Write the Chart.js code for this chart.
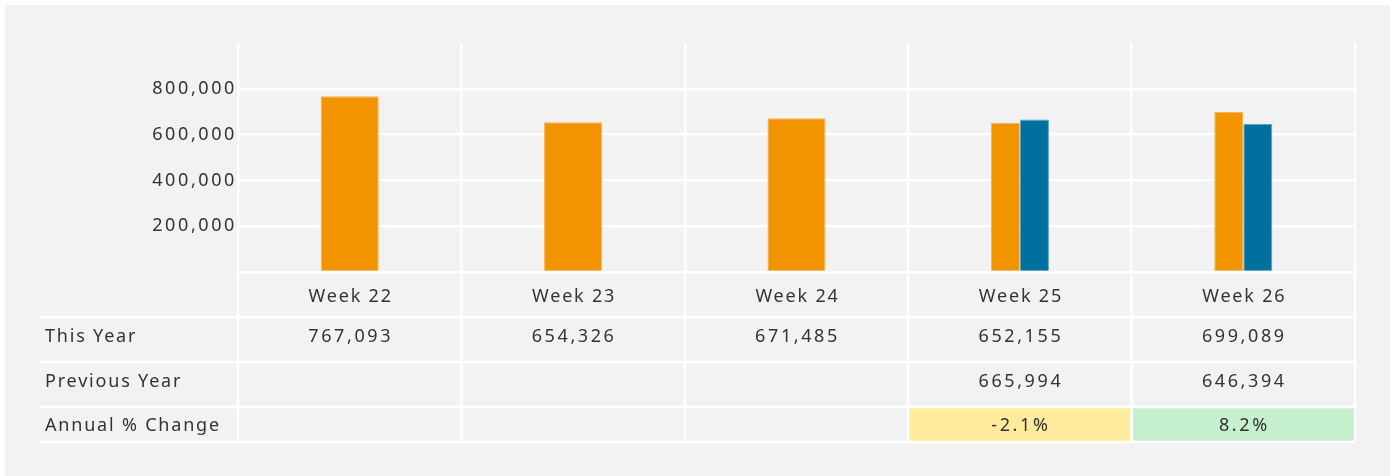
<!DOCTYPE html>
<html>
<head>
<meta charset="utf-8">
<script src="https://cdn.jsdelivr.net/npm/chart.js@4.4.1/dist/chart.umd.min.js"></script>
<style>
html, body { margin: 0; padding: 0; background: #fff; }
#wrap { width: 1396px; height: 476px; }
</style>
</head>
<body>
<div id="wrap"><canvas id="weekChart"></canvas></div>
<script>
const weeks = ['Week 22', 'Week 23', 'Week 24', 'Week 25', 'Week 26'];
const thisYear = [767093, 654326, 671485, 652155, 699089];
const prevYear = [null, null, null, 665994, 646394];
const annualChange = [null, null, null, -2.1, 8.2];
const rowLabels = ['This Year', 'Previous Year', 'Annual % Change'];
const yMax = 1000000;
const yStep = 200000;

const FONT = '"Noto Sans", "DejaVu Sans", sans-serif';
const TEXT = '#333333';
const SPACE_WORDS = '1.8px';
const SPACE_DIGITS = '2.6px';

function fmt(v) {
    return v == null ? '' : v.toLocaleString('en-US');
}

// grey panel behind the chart, and the data table under the bars
const panelAndTable = {
    id: 'panelAndTable',
    beforeDraw(chart) {
        const ctx = chart.ctx;
        ctx.save();
        ctx.fillStyle = '#f2f2f2';
        ctx.fillRect(5, 5, 1385, 471);
        ctx.restore();
        ctx.letterSpacing = SPACE_DIGITS;
    },
    afterDraw(chart) {
        const ctx = chart.ctx;
        const x = chart.scales.x;
        const area = chart.chartArea;
        const half = (x.getPixelForValue(1) - x.getPixelForValue(0)) / 2;
        const edges = weeks.map((w, i) => x.getPixelForValue(i) - half);
        edges.push(x.getPixelForValue(weeks.length - 1) + half);

        const t = area.bottom;
        const rows = [t, t + 45, t + 90, t + 135, t + 170];
        const left = 40;

        ctx.save();

        // coloured change cells
        annualChange.forEach((v, i) => {
            if (v == null) return;
            ctx.fillStyle = v < 0 ? '#ffeb9c' : '#c6efce';
            ctx.fillRect(edges[i], rows[3], edges[i + 1] - edges[i], rows[4] - rows[3]);
        });

        // lines
        ctx.strokeStyle = '#ffffff';
        ctx.lineWidth = 2.5;
        ctx.beginPath();
        for (let r = 1; r < rows.length; r++) {
            ctx.moveTo(left, rows[r]);
            ctx.lineTo(area.right, rows[r]);
        }
        edges.forEach(e => {
            ctx.moveTo(e, rows[0]);
            ctx.lineTo(e, rows[4]);
        });
        ctx.stroke();

        // texts
        ctx.fillStyle = TEXT;
        ctx.font = '18px ' + FONT;
        ctx.textBaseline = 'middle';
        const ys = [rows[0] + 25, rows[1] + 20, rows[2] + 20, rows[3] + 19];

        ctx.letterSpacing = SPACE_WORDS;
        ctx.textAlign = 'left';
        rowLabels.forEach((l, r) => ctx.fillText(l, 45, ys[r + 1]));

        ctx.textAlign = 'center';
        weeks.forEach((w, i) => {
            const cx = x.getPixelForValue(i) + 1;
            ctx.letterSpacing = SPACE_WORDS;
            ctx.fillText(w, cx, ys[0]);
            ctx.letterSpacing = SPACE_DIGITS;
            ctx.fillText(fmt(thisYear[i]), cx, ys[1]);
            ctx.fillText(fmt(prevYear[i]), cx, ys[2]);
            if (annualChange[i] != null) ctx.fillText(annualChange[i].toFixed(1) + '%', cx, ys[3]);
        });
        ctx.restore();
    }
};

const ctx = document.getElementById('weekChart').getContext('2d');
const chart = new Chart(ctx, {
    type: 'bar',
    data: {
        labels: weeks,
        datasets: [{
            label: 'This Year',
            data: thisYear,
            backgroundColor: '#f29400',
            borderColor: '#f6b253',
            borderWidth: 1
        }, {
            label: 'Previous Year',
            data: prevYear,
            backgroundColor: '#00709e',
            borderColor: '#5fa3c4',
            borderWidth: 1
        }]
    },
    options: {
        responsive: true,
        maintainAspectRatio: false,
        animation: false,
        skipNull: true,
        categoryPercentage: 0.26,
        barPercentage: 1,
        layout: { padding: { top: 43, right: 41, left: 0, bottom: 0 } },
        plugins: {
            legend: { display: false },
            tooltip: { enabled: false }
        },
        scales: {
            x: {
                grid: { color: '#ffffff', lineWidth: 2.5, drawTicks: false },
                border: { display: false },
                ticks: { display: false },
                afterFit(scale) { scale.height = 204; }
            },
            y: {
                min: 0,
                max: yMax,
                grid: {
                    color: c => c.tick && c.tick.value === yMax ? 'rgba(0,0,0,0)' : '#ffffff',
                    lineWidth: 2.5,
                    drawTicks: false
                },
                border: { display: false },
                ticks: {
                    stepSize: yStep,
                    padding: 1,
                    color: TEXT,
                    font: { family: FONT, size: 18 },
                    callback: v => (v === 0 || v === yMax) ? '' : v.toLocaleString('en-US')
                },
                afterFit(scale) { scale.width = 238; }
            }
        }
    },
    plugins: [panelAndTable]
});
</script>
</body>
</html>
